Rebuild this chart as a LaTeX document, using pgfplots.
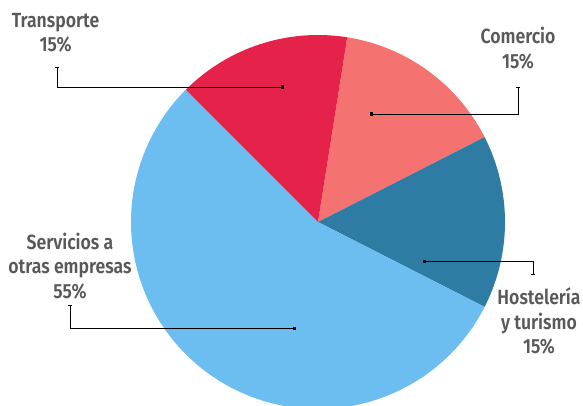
\documentclass[border=0pt]{standalone}
\usepackage{pgfplots}
\pgfplotsset{compat=1.18}
\usepackage{pgfplotstable}
\usepackage{fontspec}
\setmainfont{Fira Sans}[FakeStretch=0.86, BoldFont={Fira Sans SemiBold}, BoldFeatures={FakeStretch=0.86}]
\usetikzlibrary{arrows.meta}
\definecolor{cTra}{HTML}{E5224A}
\definecolor{cCom}{HTML}{F47371}
\definecolor{cHos}{HTML}{2E7BA3}
\definecolor{cSer}{HTML}{6CBDF0}
\definecolor{txt}{HTML}{595959}

\pgfplotstableread{
name value
Comercio 15
Hosteleria 15
Servicios 55
Transporte 15
}\piedata

\pgfplotstablegetelem{0}{value}\of\piedata \let\vA\pgfplotsretval
\pgfplotstablegetelem{1}{value}\of\piedata \let\vB\pgfplotsretval
\pgfplotstablegetelem{2}{value}\of\piedata \let\vC\pgfplotsretval
\pgfplotstablegetelem{3}{value}\of\piedata \let\vD\pgfplotsretval
\pgfmathsetmacro{\aA}{81}
\pgfmathsetmacro{\aB}{\aA-3.6*\vA}
\pgfmathsetmacro{\aC}{\aB-3.6*\vB}
\pgfmathsetmacro{\aD}{\aC-3.6*\vC}
\pgfmathsetmacro{\aE}{\aD-3.6*\vD}

\begin{document}
\begin{tikzpicture}
\begin{axis}[scale only axis, width=583pt, height=405pt,
  xmin=0, xmax=583, ymin=0, ymax=405, hide axis, clip=true]
\fill[cCom] (axis cs:318,183) -- ++(\aA:187pt) arc[start angle=\aA, end angle=\aB, radius=187pt] -- cycle;
\fill[cHos] (axis cs:318,183) -- ++(\aB:187pt) arc[start angle=\aB, end angle=\aC, radius=187pt] -- cycle;
\fill[cSer] (axis cs:318,183) -- ++(\aC:187pt) arc[start angle=\aC, end angle=\aD, radius=187pt] -- cycle;
\fill[cTra] (axis cs:318,183) -- ++(\aD:187pt) arc[start angle=\aD, end angle=\aE, radius=187pt] -- cycle;

\tikzset{lead/.style={black, line width=0.8pt, {Bar[width=4pt]}-{Square[length=3pt,width=3pt]}},
  lab/.style={text=txt, font=\fontsize{20.5}{24.5}\selectfont\bfseries, align=center, inner sep=0pt}}
\draw[lead] (axis cs:57,338) |- (axis cs:284,318);
\draw[lead] (axis cs:518,318) |- (axis cs:370,291);
\draw[lead] (axis cs:533,130) |- (axis cs:423,144);
\draw[lead] (axis cs:70,100) |- (axis cs:296,77);

\node[lab] at (axis cs:55.5,372) {Transporte\\15\%};
\node[lab] at (axis cs:518,357) {Comercio\\15\%};
\node[lab] at (axis cs:539,84) {Hostelería\\y turismo\\15\%};
\node[lab] at (axis cs:70,139) {Servicios a\\otras empresas\\55\%};
\end{axis}
\pgfresetboundingbox
\useasboundingbox (current axis.south west) rectangle (current axis.north east);
\end{tikzpicture}
\end{document}
